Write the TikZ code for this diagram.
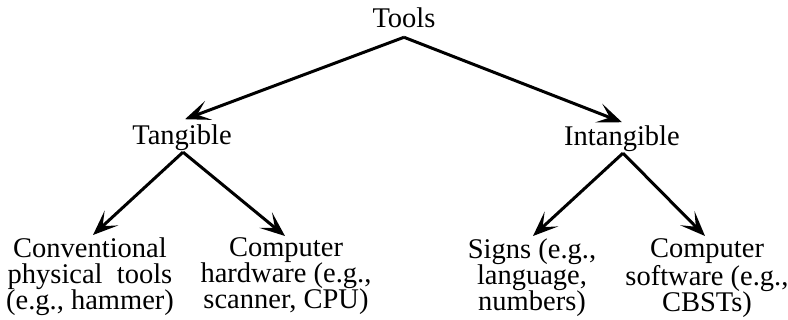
\documentclass[tikz,border=0pt]{standalone}
\usepackage{fontspec}
\setmainfont{Liberation Serif}
\usetikzlibrary{arrows.meta}
\begin{document}
\begin{tikzpicture}[x=1pt,y=-1pt,
  lbl/.style={inner sep=0pt, outer sep=0pt, align=center,
    font=\fontsize{28.5}{26}\selectfont},
  link/.style={line width=3pt,
    -{Stealth[length=25pt,width=20pt,inset=12pt]}}]
\useasboundingbox (0,0) rectangle (788,320);

% labels
\node[lbl, anchor=base] (tools) at (404,28) {Tools};
\node[lbl, anchor=base] (tang) at (182,145) {Tangible};
\node[lbl, anchor=base] (intang) at (622,146) {Intangible};
\node[lbl, anchor=north] (conv) at (90,238)
  {Conventional\\physical\ \ tools\\(e.g., hammer)};
\node[lbl, anchor=north] (hard) at (286,238)
  {Computer\\hardware (e.g.,\\scanner, CPU)};
\node[lbl, anchor=north] (signs) at (532,239)
  {Signs (e.g.,\\language,\\numbers)};
\node[lbl, anchor=north] (soft) at (707,239)
  {Computer\\software (e.g.,\\CBSTs)};

% arrows
\draw[link] ([yshift=-9pt]tools.south) -- ([xshift=3pt,yshift=6pt]tang.north);
\draw[link] ([yshift=-9pt]tools.south) -- ([yshift=4pt]intang.north);
\draw[link] ([xshift=1pt,yshift=-1pt]tang.south) -- ([xshift=3pt,yshift=3pt]conv.north);
\draw[link] ([xshift=1pt,yshift=-1pt]tang.south) -- ([xshift=-1pt,yshift=2pt]hard.north);
\draw[link] ([xshift=1pt,yshift=-1pt]intang.south) -- ([xshift=1pt,yshift=3pt]signs.north);
\draw[link] ([xshift=1pt,yshift=-1pt]intang.south) -- ([xshift=-2pt,yshift=3pt]soft.north);
\end{tikzpicture}
\end{document}
